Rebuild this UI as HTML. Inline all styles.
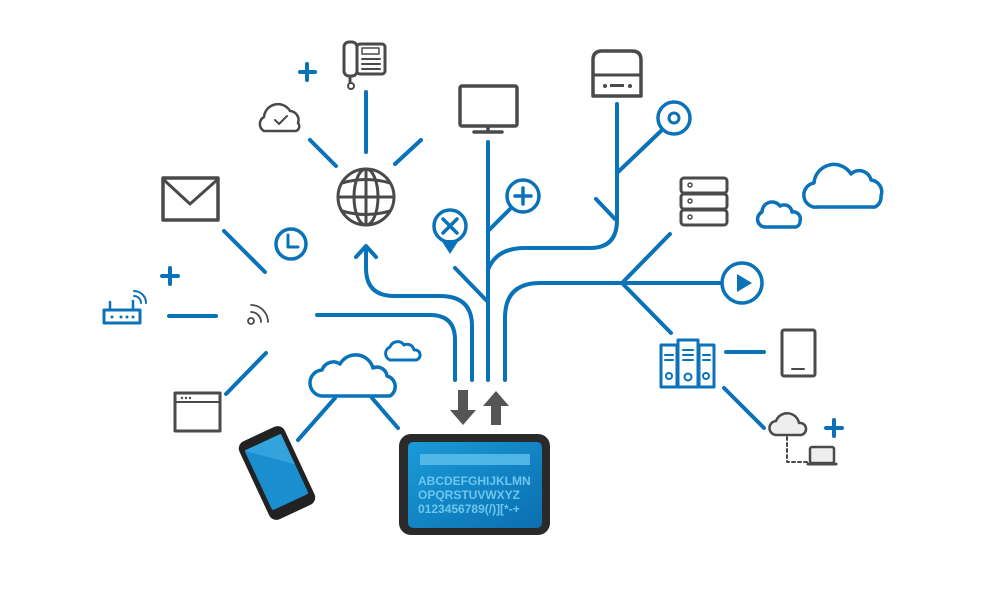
<!DOCTYPE html>
<html><head><meta charset="utf-8"><style>
html,body{margin:0;padding:0;background:#fff;width:1000px;height:600px;overflow:hidden}
svg{display:block}
</style></head><body>
<svg width="1000" height="600" viewBox="0 0 1000 600" xmlns="http://www.w3.org/2000/svg">
<defs>
<linearGradient id="scr" x1="0" y1="0" x2="1" y2="1"><stop offset="0" stop-color="#1a9ad8"/><stop offset="1" stop-color="#0b6fb0"/></linearGradient>
</defs>
<g fill="none" stroke="#0a72b8" stroke-width="4" stroke-linecap="round" stroke-linejoin="round">
<line x1="366" y1="92" x2="366" y2="152"/>
<line x1="310" y1="140" x2="336" y2="166"/>
<line x1="421" y1="140" x2="395" y2="164"/>
<line x1="224" y1="231" x2="265" y2="272"/>
<line x1="169" y1="316" x2="216" y2="316"/>
<line x1="226" y1="394" x2="266" y2="353"/>
<path d="M366,248 V268 Q366,296 394,296 H440 Q472,296 472,326 V380"/>
<path d="M356,257 L366,246 L376,257"/>
<path d="M317,315 H430 Q455,315 455,340 V380"/>
<line x1="488" y1="142" x2="488" y2="380"/>
<line x1="455" y1="268" x2="487" y2="301"/>
<line x1="489" y1="230" x2="510" y2="209"/>
<path d="M488,270 Q496,248 525,248 H590 Q617,248 617,220 V104"/>
<line x1="596" y1="199" x2="615" y2="219"/>
<line x1="617" y1="173" x2="662" y2="130"/>
<path d="M505,380 V318 Q505,283 540,283 H720"/>
<line x1="622" y1="283" x2="670" y2="234"/>
<line x1="622" y1="283" x2="671" y2="333"/>
<line x1="726" y1="352" x2="764" y2="352"/>
<line x1="724" y1="388" x2="764" y2="428"/>
<line x1="335" y1="398" x2="298" y2="440"/>
<line x1="372" y1="398" x2="398" y2="428"/>
<path d="M300,72 H315 M307,64 V80"/>
<path d="M162,276 H178 M170,268 V284"/>
<path d="M826,428 H842 M834,420 V436"/>
<circle cx="291" cy="244" r="15" stroke-width="3.5"/>
<path d="M288,235 V247 H298" stroke-width="3"/>
<circle cx="450" cy="226" r="16" stroke-width="3.5"/>
<path d="M443,219 L457,233 M457,219 L443,233" stroke-width="3.5"/>
<circle cx="523" cy="196" r="16" stroke-width="3.5"/>
<path d="M515,196 H531 M523,188 V204" stroke-width="3.5"/>
<circle cx="674" cy="118" r="16" stroke-width="3.5"/>
<circle cx="674" cy="118" r="5" stroke-width="3"/>
<circle cx="742" cy="283" r="20" stroke-width="3.5"/>
<path d="M324,396 a13,13 0 0 1 -2,-26 a12,12 0 0 1 18,-6 a18,18 0 0 1 33,4 a10,10 0 0 1 14,8 a11,11 0 0 1 3,20 Z" stroke-width="3.5"/>
<path d="M390,360 a7,7 0 0 1 0,-13 a8,8 0 0 1 14,-2 a7,7 0 0 1 10,5 a5,5 0 0 1 2,10 Z" stroke-width="3"/>
<path d="M818,207 a12,12 0 0 1 -4,-24 a20,20 0 0 1 37,-9 a12,12 0 0 1 20,6 a12,12 0 0 1 10,16 a11,11 0 0 1 -6,11 Z" stroke-width="3.5"/>
<path d="M764,227 a8,8 0 0 1 -2,-15 a10,10 0 0 1 18,-6 a8,8 0 0 1 12,6 a7,7 0 0 1 8,9 a6,6 0 0 1 -4,6 Z" stroke-width="3.5"/>
<rect x="104" y="310" width="36" height="13" stroke-width="3"/>
<path d="M110,310 V302 M133,310 V301" stroke-width="2.5"/>
<path d="M134,296 a7,7 0 0 1 7,7 M134,291 a12,12 0 0 1 12,12" stroke-width="2"/>
<rect x="661" y="345" width="16" height="42" stroke-width="3"/>
<rect x="678" y="340" width="20" height="47" stroke-width="3"/>
<rect x="699" y="345" width="15" height="42" stroke-width="3"/>
<path d="M665,355 H673 M665,360 H673 M683,350 H693 M683,355 H693 M683,360 H693 M703,355 H710 M703,360 H710" stroke-width="2"/>
<circle cx="669" cy="376" r="3" stroke-width="2"/><circle cx="688" cy="377" r="3.5" stroke-width="2"/><circle cx="706" cy="376" r="3" stroke-width="2"/>
</g>
<polygon points="737,274 737,292 752,283" fill="#0a72b8"/>
<path d="M441,240 L459,240 L450,254 Z" fill="#0a72b8"/>
<circle cx="112" cy="317" r="1.5" fill="#0a72b8"/><circle cx="121" cy="317" r="1.5" fill="#0a72b8"/><circle cx="127" cy="317" r="1.5" fill="#0a72b8"/><circle cx="133" cy="317" r="1.5" fill="#0a72b8"/>

<g fill="none" stroke="#4a4a4a" stroke-width="3" stroke-linecap="round" stroke-linejoin="round">
<rect x="344" y="42" width="13" height="34" rx="5"/>
<rect x="357" y="44" width="28" height="30" rx="3"/>
<rect x="362" y="48" width="17" height="6" stroke-width="1.5"/>
<path d="M362,59 H380 M362,64 H380 M362,69 H380" stroke-width="2"/>
<path d="M350,78 V82" /><circle cx="351" cy="86" r="3" stroke-width="2"/>
<path d="M264,131 a8,8 0 0 1 0,-14 a14,14 0 0 1 26,-6 a9,9 0 0 1 8,12 a5,5 0 0 1 -2,8 Z" stroke-width="2.5"/>
<path d="M275,120 L279,124 L287,116" stroke-width="2"/>
<circle cx="366" cy="197" r="28"/>
<ellipse cx="366" cy="197" rx="12" ry="28"/>
<line x1="366" y1="169" x2="366" y2="225"/>
<line x1="338" y1="197" x2="394" y2="197"/>
<path d="M342,183 Q366,176 390,183 M342,211 Q366,218 390,211"/>
<rect x="163" y="178" width="55" height="42" stroke-width="3.5"/>
<path d="M164,180 L190,204 L217,180" stroke-width="3"/>
<circle cx="251" cy="321" r="3" stroke-width="1.8"/>
<path d="M251,312 a10,10 0 0 1 10,10 M251,305 a17,17 0 0 1 17,17" stroke-width="1.8"/>
<rect x="175" y="393" width="45" height="38" stroke-width="3"/>
<line x1="175" y1="402" x2="220" y2="402" stroke-width="2"/>
<rect x="460" y="86" width="57" height="40" rx="2" stroke-width="3.5"/>
<path d="M488,127 V132 M474,132 H502" stroke-width="3.5"/>
<path d="M593,96 V60 Q593,51 602,51 H632 Q641,51 641,60 V96 Z" stroke-width="3.5"/>
<line x1="593" y1="75" x2="641" y2="75" stroke-width="3"/>
<rect x="681" y="178" width="46" height="15" rx="3"/>
<rect x="681" y="194" width="46" height="15" rx="3"/>
<rect x="681" y="210" width="46" height="15" rx="3"/>
<circle cx="690" cy="185" r="2" stroke-width="1.5"/><circle cx="690" cy="201" r="2" stroke-width="1.5"/><circle cx="690" cy="217" r="2" stroke-width="1.5"/>
<rect x="782" y="330" width="33" height="46" rx="2"/>
<line x1="792" y1="369" x2="804" y2="369" stroke-width="2"/>
<path d="M777,435 a7,7 0 0 1 -1,-14 a12,12 0 0 1 23,2 a6,6 0 0 1 2,12 Z" stroke-width="2.5" fill="#eee"/>
<path d="M787,437 V462 H808" stroke-width="2" stroke-dasharray="3,3"/>
<rect x="810" y="447" width="24" height="16" rx="2" stroke-width="2.5" fill="#eee"/>
<line x1="808" y1="464" x2="836" y2="464" stroke-width="3"/>
</g>
<circle cx="182" cy="398" r="1.2" fill="#4a4a4a"/><circle cx="186" cy="398" r="1.2" fill="#4a4a4a"/><circle cx="190" cy="398" r="1.2" fill="#4a4a4a"/>
<circle cx="605" cy="86" r="2" fill="#4a4a4a"/><circle cx="630" cy="86" r="2" fill="#4a4a4a"/><rect x="610" y="84" width="14" height="3" fill="#4a4a4a"/>

<path d="M458,390 H468 V410 H476 L463,425 L450,410 H458 Z" fill="#555"/>
<path d="M491,425 H501 V406 H509 L496,391 L483,406 H491 Z" fill="#555"/>

<rect x="399" y="434" width="151" height="101" rx="12" fill="#2a2a2a"/>
<rect x="408" y="442" width="134" height="86" rx="5" fill="url(#scr)"/>
<rect x="420" y="454" width="110" height="11" fill="#5fc2ec" opacity="0.8"/>
<g font-family="Liberation Sans, sans-serif" font-size="12" fill="#6cc6ee" font-weight="bold">
<text x="418" y="485">ABCDEFGHIJKLMN</text>
<text x="418" y="499">OPQRSTUVWXYZ</text>
<text x="418" y="513">0123456789(/)][*-+</text>
</g>

<g transform="translate(277,473) rotate(-25)">
<rect x="-25" y="-43" width="50" height="86" rx="8" fill="#222"/>
<rect x="-20" y="-34" width="40" height="66" rx="2" fill="#1a8fd0"/>
<path d="M-20,-34 H20 V0 Z" fill="#45b0e6" opacity="0.6"/>
</g>
</svg>
</body></html>
